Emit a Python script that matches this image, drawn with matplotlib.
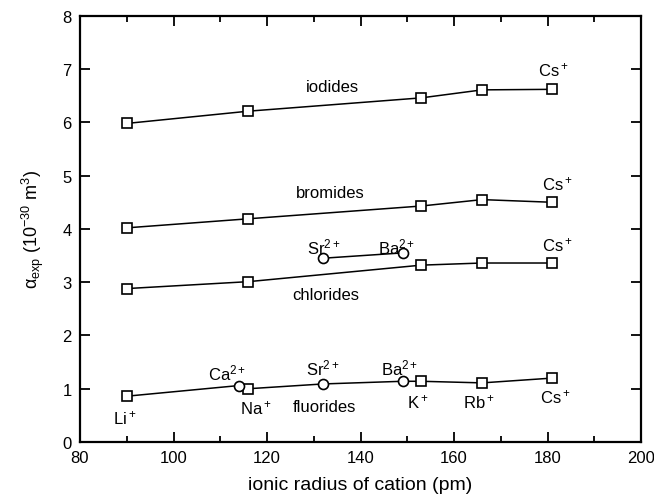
import matplotlib
matplotlib.use("Agg")
import matplotlib.pyplot as plt
from matplotlib.ticker import MultipleLocator

plt.rcParams['font.family'] = ['Liberation Sans', 'DejaVu Sans']
plt.rcParams['mathtext.fontset'] = 'custom'
plt.rcParams['mathtext.rm'] = 'Liberation Sans'
plt.rcParams['mathtext.it'] = 'Liberation Sans'
plt.rcParams['mathtext.default'] = 'regular'

# ionic radii (pm)
r_alkali = [90, 116, 153, 166, 181]        # Li+, Na+, K+, Rb+, Cs+
r_earth = [114, 132, 149]                  # Ca2+, Sr2+, Ba2+

# polarizabilities (1e-30 m^3)
iodides = [5.98, 6.21, 6.46, 6.61, 6.62]
bromides = [4.02, 4.19, 4.43, 4.55, 4.50]
chlorides = [2.88, 3.01, 3.32, 3.36, 3.36]
chlorides_earth = [3.45, 3.55]             # Sr2+, Ba2+
fluorides = [0.86, 1.00, 1.14, 1.11, 1.20]
fluorides_earth = [1.06, 1.09, 1.14]       # Ca2+, Sr2+, Ba2+

fig = plt.figure(figsize=(6.54, 5.02), dpi=100)
ax = fig.add_axes([0.1223, 0.1175, 0.858, 0.849])

sq = dict(marker='s', mfc='white', mec='black', ms=7.2, mew=1.2, color='black', lw=1.1)
ci = dict(marker='o', mfc='white', mec='black', ms=7.2, mew=1.2, color='black', lw=1.1)

ax.plot(r_alkali, iodides, **sq)
ax.plot(r_alkali, bromides, **sq)
ax.plot(r_alkali, chlorides, **sq)
ax.plot(r_earth[1:], chlorides_earth, **ci)

# fluorides: one line through all cations ordered by radius
fl = sorted(zip(r_alkali + r_earth, fluorides + fluorides_earth))
ax.plot([p[0] for p in fl], [p[1] for p in fl], color='black', lw=1.1)
ax.plot(r_alkali, fluorides, ls='none', **{k: v for k, v in sq.items() if k not in ('color', 'lw')})
ax.plot(r_earth, fluorides_earth, ls='none', **{k: v for k, v in ci.items() if k not in ('color', 'lw')})

fs = 12
ax.text(134, 6.68, 'iodides', ha='center', va='center', fontsize=fs)
ax.text(133.5, 4.69, 'bromides', ha='center', va='center', fontsize=fs)
ax.text(132.6, 2.77, 'chlorides', ha='center', va='center', fontsize=fs)
ax.text(132.2, 0.66, 'fluorides', ha='center', va='center', fontsize=fs)

ax.text(181.2, 7.0, 'Cs$^+$', ha='center', va='center', fontsize=fs)
ax.text(182, 4.85, 'Cs$^+$', ha='center', va='center', fontsize=fs)
ax.text(182, 3.72, 'Cs$^+$', ha='center', va='center', fontsize=fs)
ax.text(181.6, 0.85, 'Cs$^+$', ha='center', va='center', fontsize=fs)

ax.text(132.2, 3.67, 'Sr$^{2+}$', ha='center', va='center', fontsize=fs)
ax.text(147.8, 3.67, 'Ba$^{2+}$', ha='center', va='center', fontsize=fs)

ax.text(89.5, 0.46, 'Li$^+$', ha='center', va='center', fontsize=fs)
ax.text(111.5, 1.30, 'Ca$^{2+}$', ha='center', va='center', fontsize=fs)
ax.text(117.5, 0.66, 'Na$^+$', ha='center', va='center', fontsize=fs)
ax.text(132, 1.40, 'Sr$^{2+}$', ha='center', va='center', fontsize=fs)
ax.text(148.3, 1.40, 'Ba$^{2+}$', ha='center', va='center', fontsize=fs)
ax.text(152.3, 0.76, 'K$^+$', ha='center', va='center', fontsize=fs)
ax.text(165.3, 0.76, 'Rb$^+$', ha='center', va='center', fontsize=fs)

ax.set_xlim(80, 200)
ax.set_ylim(0, 8)
ax.xaxis.set_major_locator(MultipleLocator(20))
ax.xaxis.set_minor_locator(MultipleLocator(10))
ax.yaxis.set_major_locator(MultipleLocator(1))
ax.tick_params(which='both', direction='in', top=True, right=True, width=1.3, labelsize=12)
ax.tick_params(which='major', length=7, pad=6)
ax.tick_params(which='minor', length=4)
for s in ax.spines.values():
    s.set_linewidth(1.6)

ax.set_xlabel('ionic radius of cation (pm)', fontsize=14, labelpad=8)
ax.set_ylabel(r'$\alpha_{exp}$ (10$^{-30}$ m$^3$)', fontsize=13, labelpad=12)

fig.savefig('out.png', dpi=100)
